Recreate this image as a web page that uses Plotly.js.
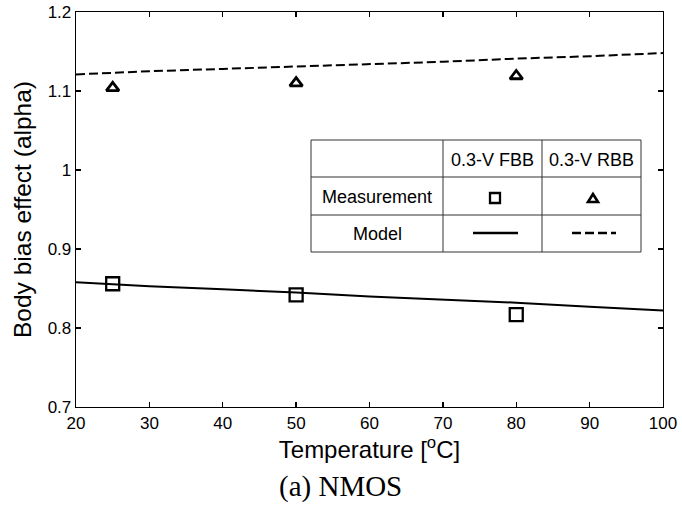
<!DOCTYPE html>
<html>
<head>
<meta charset="utf-8">
<script src="https://cdn.plot.ly/plotly-3.0.1.min.js"></script>
<style>html,body{margin:0;padding:0;background:#fff;}#chart{width:682px;height:505px;}</style>
</head>
<body>
<div id="chart"></div>
<script>
// ---- data ----
const modelTemps = [20, 30, 40, 50, 60, 70, 80, 90, 100];
const modelFBB = [0.858, 0.853, 0.849, 0.845, 0.840, 0.836, 0.832, 0.827, 0.822];
const modelRBB = [1.121, 1.125, 1.128, 1.131, 1.134, 1.137, 1.141, 1.144, 1.148];
const measTemps = [25, 50, 80];
const measFBB = [0.856, 0.842, 0.817];
const measRBB = [1.104, 1.110, 1.119];
const xTicks = [20, 30, 40, 50, 60, 70, 80, 90, 100];
const yTicks = [0.7, 0.8, 0.9, 1.0, 1.1, 1.2];
const yTickLabels = ['0.7', '0.8', '0.9', '1', '1.1', '1.2'];

// ---- layout geometry (pixels) ----
const L = 76, R = 663, T = 12, B = 407;
const px = v => (v - L) / (R - L);
const py = v => (B - v) / (B - T);

const font = 'Liberation Sans, Arial, sans-serif';

const traces = [
  {x: modelTemps, y: modelFBB, mode: 'lines', line: {color: '#000', width: 2}, hoverinfo: 'skip'},
  {x: modelTemps, y: modelRBB, mode: 'lines', line: {color: '#000', width: 2, dash: '9px,4px'}, hoverinfo: 'skip'},
  {x: measTemps, y: measFBB, mode: 'markers', marker: {symbol: 'square-open', size: 13, color: '#000', line: {width: 2.3, color: '#000'}}, hoverinfo: 'skip'},
  {x: measTemps, y: measRBB, mode: 'markers', marker: {symbol: 'triangle-up-open', size: 11, color: '#000', line: {width: 2.8, color: '#000'}}, hoverinfo: 'skip'}
];

// legend table geometry
const tL = 311, tR = 641, tT = 140, tB = 252, c1 = 443, c2 = 542, r1 = 177, r2 = 215;
const lineStyle = {color: '#333', width: 1};
const shapes = [
  {type: 'rect', xref: 'paper', yref: 'paper', x0: px(tL), x1: px(tR), y0: py(tB), y1: py(tT), line: lineStyle, fillcolor: '#fff', layer: 'above'},
  {type: 'line', xref: 'paper', yref: 'paper', x0: px(c1), x1: px(c1), y0: py(tB), y1: py(tT), line: lineStyle, layer: 'above'},
  {type: 'line', xref: 'paper', yref: 'paper', x0: px(c2), x1: px(c2), y0: py(tB), y1: py(tT), line: lineStyle, layer: 'above'},
  {type: 'line', xref: 'paper', yref: 'paper', x0: px(tL), x1: px(tR), y0: py(r1), y1: py(r1), line: lineStyle, layer: 'above'},
  {type: 'line', xref: 'paper', yref: 'paper', x0: px(tL), x1: px(tR), y0: py(r2), y1: py(r2), line: lineStyle, layer: 'above'},
  // legend samples
  {type: 'rect', xref: 'paper', yref: 'paper', x0: px(490), x1: px(500), y0: py(203), y1: py(193), line: {color: '#000', width: 2.3}, layer: 'above'},
  {type: 'path', xref: 'paper', yref: 'paper', path: `M ${px(588)} ${py(202)} L ${px(598)} ${py(202)} L ${px(593)} ${py(194)} Z`, line: {color: '#000', width: 2.6}, layer: 'above'},
  {type: 'line', xref: 'paper', yref: 'paper', x0: px(473), x1: px(518), y0: py(233), y1: py(233), line: {color: '#000', width: 2.3}, layer: 'above'},
  {type: 'line', xref: 'paper', yref: 'paper', x0: px(572), x1: px(616), y0: py(233), y1: py(233), line: {color: '#000', width: 2.3, dash: '9px,4px'}, layer: 'above'}
];

const tableFont = {family: font, size: 18, color: '#000'};
const ann = (text, x, y, f) => ({text: text, x: px(x), y: py(y), xref: 'paper', yref: 'paper', xanchor: 'center', yanchor: 'middle', showarrow: false, font: f});
const annotations = [
  ann('0.3-V FBB', (c1 + c2) / 2, 160, tableFont),
  ann('0.3-V RBB', (c2 + tR) / 2, 160, tableFont),
  ann('Measurement', (tL + c1) / 2, 197, tableFont),
  ann('Model', (tL + c1) / 2, 234, tableFont),
  ann('(a) NMOS', 340, 486, {family: 'Liberation Serif, Times New Roman, serif', size: 29, color: '#000'})
];

const axisCommon = {
  showgrid: false, zeroline: false, showline: true, linecolor: '#000', linewidth: 1.3,
  mirror: 'allticks', ticks: 'inside', ticklen: 5, tickwidth: 1.3, tickcolor: '#000',
  tickfont: {family: font, size: 17, color: '#000'}
};

const layout = {
  width: 682, height: 505,
  margin: {l: L, r: 682 - R, t: T, b: 505 - B, pad: 0},
  paper_bgcolor: '#fff', plot_bgcolor: '#fff',
  showlegend: false,
  xaxis: Object.assign({}, axisCommon, {
    range: [20, 100], tickvals: xTicks, ticktext: xTicks.map(String),
    title: {text: 'Temperature [<sup>o</sup>C]', font: {family: font, size: 24, color: '#000'}, standoff: 3}
  }),
  yaxis: Object.assign({}, axisCommon, {
    range: [0.7, 1.2], tickvals: yTicks, ticktext: yTickLabels,
    title: {text: 'Body bias effect (alpha)', font: {family: font, size: 24.5, color: '#000'}, standoff: 9}
  }),
  shapes: shapes,
  annotations: annotations
};

Plotly.newPlot('chart', traces, layout, {staticPlot: true, displayModeBar: false});
</script>
</body>
</html>
